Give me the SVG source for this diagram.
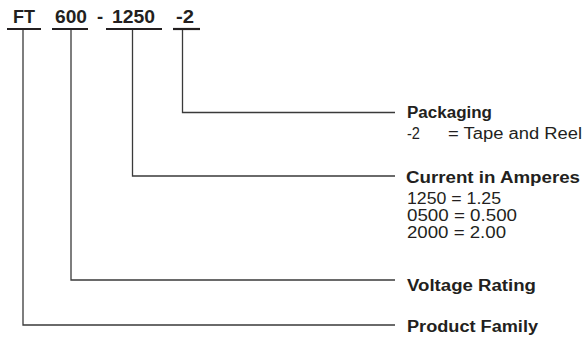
<svg xmlns="http://www.w3.org/2000/svg" width="587" height="340" viewBox="0 0 587 340">
<style>
.code{font-family:"Liberation Sans",Arial,sans-serif;font-weight:bold;font-size:18.5px;fill:#231f20}
.head{font-family:"Liberation Sans",Arial,sans-serif;font-weight:bold;font-size:16px;fill:#231f20}
.val{font-family:"Liberation Sans",Arial,sans-serif;font-size:16px;fill:#231f20}
.ul{stroke:#231f20;stroke-width:2.2;fill:none}
.conn{stroke:#3a3a3a;stroke-width:1.3;fill:none}
</style>
<rect width="587" height="340" fill="#ffffff"/>
<g id="part-number">
  <text class="code" x="13" y="23" textLength="22" lengthAdjust="spacingAndGlyphs">FT</text>
  <text class="code" x="55" y="23" textLength="32" lengthAdjust="spacingAndGlyphs">600</text>
  <text class="code" x="97" y="23">-</text>
  <text class="code" x="112" y="23" textLength="43" lengthAdjust="spacingAndGlyphs">1250</text>
  <text class="code" x="176" y="23" textLength="18" lengthAdjust="spacingAndGlyphs">-2</text>
  <line class="ul" x1="7" y1="29" x2="41" y2="29"/>
  <line class="ul" x1="52" y1="29" x2="88" y2="29"/>
  <line class="ul" x1="106" y1="29" x2="162" y2="29"/>
  <line class="ul" x1="173" y1="29" x2="200" y2="29"/>
</g>
<g id="connectors">
  <polyline class="conn" points="182.5,30 182.5,112.5 395,112.5"/>
  <polyline class="conn" points="132.5,30 132.5,176 395,176"/>
  <polyline class="conn" points="71,30 71,280 395,280"/>
  <polyline class="conn" points="23,30 23,325 395,325"/>
</g>
<g id="packaging">
  <text class="head" x="407" y="117.5" textLength="85" lengthAdjust="spacingAndGlyphs">Packaging</text>
  <text class="val" x="407" y="138.5" textLength="13" lengthAdjust="spacingAndGlyphs">-2</text>
  <text class="val" x="448" y="138.5" textLength="134" lengthAdjust="spacingAndGlyphs">= Tape and Reel</text>
</g>
<g id="current">
  <text class="head" x="406" y="182.5" textLength="174" lengthAdjust="spacingAndGlyphs">Current in Amperes</text>
  <text class="val" x="407" y="203.5" textLength="94" lengthAdjust="spacingAndGlyphs">1250 = 1.25</text>
  <text class="val" x="407" y="220.5" textLength="110" lengthAdjust="spacingAndGlyphs">0500 = 0.500</text>
  <text class="val" x="407" y="237.5" textLength="99" lengthAdjust="spacingAndGlyphs">2000 = 2.00</text>
</g>
<g id="voltage">
  <text class="head" x="407" y="290.5" textLength="129" lengthAdjust="spacingAndGlyphs">Voltage Rating</text>
</g>
<g id="family">
  <text class="head" x="407" y="331.5" textLength="131" lengthAdjust="spacingAndGlyphs">Product Family</text>
</g>
</svg>
